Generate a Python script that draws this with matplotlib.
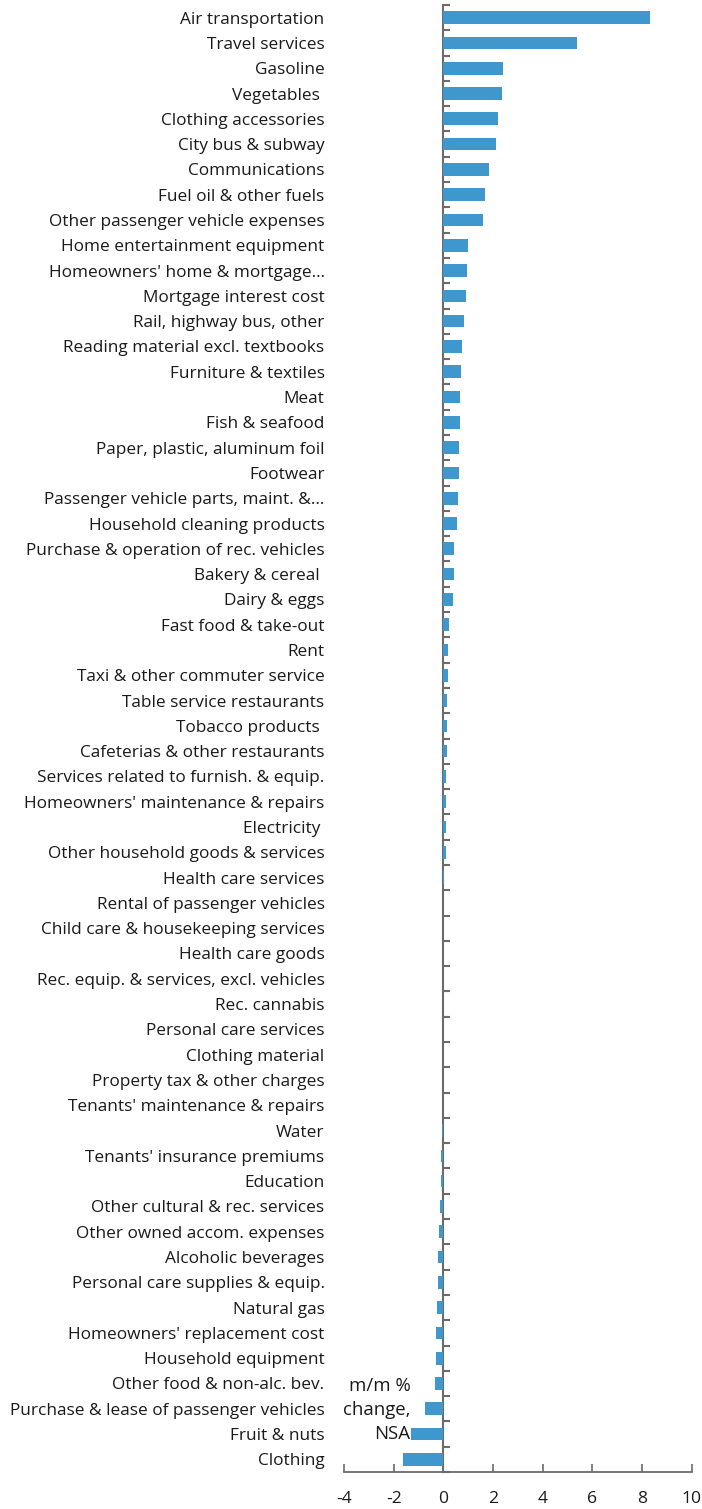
import matplotlib
matplotlib.use('Agg')
import matplotlib.pyplot as plt
import numpy as np

plt.rcParams['font.family'] = ['Open Sans', 'DejaVu Sans']

# categories, top to bottom
categories = [
    "Air transportation", "Travel services", "Gasoline", "Vegetables ",
    "Clothing accessories", "City bus & subway", "Communications",
    "Fuel oil & other fuels", "Other passenger vehicle expenses",
    "Home entertainment equipment", "Homeowners' home & mortgage\u2026",
    "Mortgage interest cost", "Rail, highway bus, other",
    "Reading material excl. textbooks", "Furniture & textiles", "Meat",
    "Fish & seafood", "Paper, plastic, aluminum foil", "Footwear",
    "Passenger vehicle parts, maint. &\u2026", "Household cleaning products",
    "Purchase & operation of rec. vehicles", "Bakery & cereal ",
    "Dairy & eggs", "Fast food & take-out", "Rent",
    "Taxi & other commuter service", "Table service restaurants",
    "Tobacco products ", "Cafeterias & other restaurants",
    "Services related to furnish. & equip.",
    "Homeowners' maintenance & repairs", "Electricity ",
    "Other household goods & services", "Health care services",
    "Rental of passenger vehicles", "Child care & housekeeping services",
    "Health care goods", "Rec. equip. & services, excl. vehicles",
    "Rec. cannabis", "Personal care services", "Clothing material",
    "Property tax & other charges", "Tenants' maintenance & repairs",
    "Water", "Tenants' insurance premiums", "Education",
    "Other cultural & rec. services", "Other owned accom. expenses",
    "Alcoholic beverages", "Personal care supplies & equip.",
    "Natural gas", "Homeowners' replacement cost", "Household equipment",
    "Other food & non-alc. bev.", "Purchase & lease of passenger vehicles",
    "Fruit & nuts", "Clothing",
]

# m/m % change, NSA
values = [
    8.33, 5.38, 2.40, 2.35, 2.21, 2.11, 1.85, 1.67, 1.60,
    0.98, 0.97, 0.90, 0.82, 0.74, 0.70, 0.68, 0.67, 0.64, 0.63,
    0.59, 0.55, 0.44, 0.43, 0.37, 0.24, 0.19, 0.17, 0.15, 0.15,
    0.14, 0.12, 0.11, 0.11, 0.10, 0.02,
    0.0, 0.0, 0.0, 0.0, 0.0, 0.0, 0.0, 0.0, 0.0,
    -0.05, -0.08, -0.11, -0.15, -0.19, -0.20, -0.23, -0.26, -0.28,
    -0.30, -0.34, -0.72, -1.29, -1.63,
]

x_ticks = [-4, -2, 0, 2, 4, 6, 8, 10]

bar_color = '#3e97cd'
axis_color = '#6b6b6b'
text_color = '#1a1a1a'

fig = plt.figure(figsize=(7.02, 15.09), dpi=100)
ax = fig.add_axes([344 / 702, 1 - 1472 / 1509, (691.7 - 344) / 702, (1472 - 5) / 1509])

n = len(categories)
y = np.arange(n)
ax.barh(y, values, height=0.5, color=bar_color, zorder=2)
ax.set_ylim(n - 0.5, -0.5)
ax.set_xlim(-4, 10)

# category labels
ax.set_yticks(y)
ax.set_yticklabels(categories, fontsize=12.4, color=text_color)
ax.tick_params(axis='y', length=0, pad=14)

# x axis
ax.set_xticks(x_ticks)
ax.set_xticklabels([str(t) for t in x_ticks], fontsize=12.6, color=text_color)
ax.tick_params(axis='x', direction='in', length=6, width=1.2, color=axis_color, pad=14)

for s in ['top', 'right', 'left']:
    ax.spines[s].set_visible(False)
ax.spines['bottom'].set_color(axis_color)
ax.spines['bottom'].set_linewidth(1.3)

# vertical axis at zero with category boundary ticks
sec = ax.secondary_yaxis(4 / 14)
sec.set_yticks(np.arange(n + 1) - 0.5)
sec.tick_params(direction='in', length=5, width=1.5, color=axis_color, labelleft=False)
sec.spines['left'].set_color(axis_color)
sec.spines['left'].set_linewidth(1.5)

ax.text(-1.33, 55.05, "m/m %\nchange,\nNSA", ha='right', va='center',
        fontsize=13.4, color=text_color, linespacing=1.42)

fig.savefig('out.png', dpi=100)
